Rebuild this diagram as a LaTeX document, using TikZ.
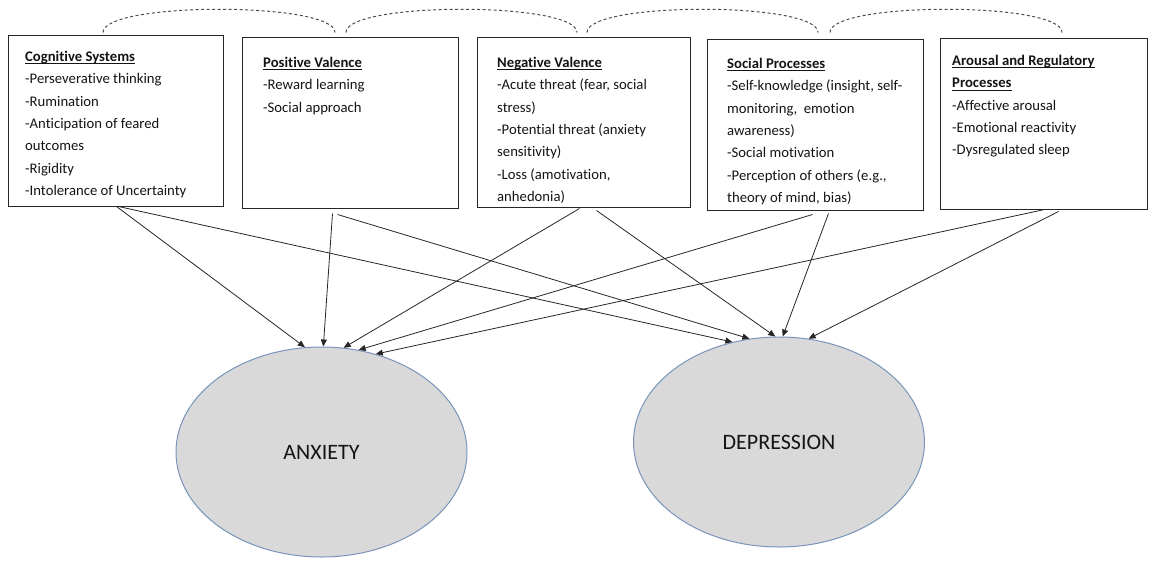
\documentclass[tikz,border=0pt]{standalone}
\usepackage{fontspec}
\setmainfont[Ligatures=NoCommon]{Carlito}
\usetikzlibrary{arrows.meta,shapes.geometric}
\definecolor{ellfill}{RGB}{217,217,217}
\definecolor{ellline}{RGB}{120,148,186}
\definecolor{ink}{RGB}{20,20,20}
\newsavebox\ulbox
\newcommand\myul[1]{\sbox\ulbox{#1}\rlap{\rule[-3pt]{\wd\ulbox}{0.9pt}}\usebox\ulbox}
\tikzset{
  box/.style={draw=black!85, line width=1pt, rectangle, inner sep=0pt},
  txt/.style={anchor=north west, inner sep=0pt, align=left, text=ink,
    font=\fontsize{14.7}{22.4}\selectfont},
  oval/.style={ellipse, draw=ellline, fill=ellfill, line width=1pt, inner sep=0pt,
    minimum width=291pt, minimum height=210pt, text=ink, font=\fontsize{22}{26}\selectfont},
  arr/.style={draw=black!85, line width=0.8pt, -{Triangle[length=7pt,width=6pt]}},
  link/.style={draw=black!70, line width=1pt, dash pattern=on 3pt off 2.5pt},
}
\newcommand\fs{\rule{0pt}{11pt}}
\begin{document}
\begin{tikzpicture}[x=1pt,y=-1pt]
\useasboundingbox (0,0) rectangle (1151,560);
% boxes
\node[box, minimum width=215pt, minimum height=171pt] (c1) at (115.5,120.5) {};
\node[box, minimum width=216pt, minimum height=171pt] (c2) at (350,122.5) {};
\node[box, minimum width=213pt, minimum height=170pt] (c3) at (583.5,122) {};
\node[box, minimum width=216pt, minimum height=171pt] (c4) at (815,124.5) {};
\node[box, minimum width=207pt, minimum height=171pt] (c5) at (1043.5,123.5) {};
% texts
\node[txt] (t1) at (25,50) {\fs\myul{\textbf{Cognitive Systems}}\\-Perseverative thinking\\-Rumination\\-Anticipation of feared\\outcomes\\-Rigidity\\-Intolerance of Uncertainty};
\node[txt] (t2) at (263,56) {\fs\myul{\textbf{Positive Valence}}\\-Reward learning\\-Social approach};
\node[txt] (t3) at (497,56) {\fs\myul{\textbf{Negative Valence}}\\-Acute threat (fear, social\\stress)\\-Potential threat (anxiety\\sensitivity)\\-Loss (amotivation,\\anhedonia)};
\node[txt] (t4) at (727,57) {\fs\myul{\textbf{Social Processes}}\\-Self-knowledge (insight, self-\\monitoring,\ \ emotion\\awareness)\\-Social motivation\\-Perception of others (e.g.,\\theory of mind, bias)};
\node[txt] (t5) at (952,54) {\fs\myul{\textbf{Arousal and Regulatory}}\\\myul{\textbf{Processes}}\\-Affective arousal\\-Emotional reactivity\\-Dysregulated sleep};
% ellipses
\node[oval] (anx) at (321.5,452) {ANXIETY};
\node[oval] (dep) at (779,442) {DEPRESSION};
% dashed links
\draw[link] ([xshift=-12.5pt,yshift=2pt]c1.north) .. controls +(0,-31) and +(0,-31) .. ([xshift=-15pt,yshift=4pt]c2.north);
\draw[link] ([xshift=-4pt,yshift=4pt]c2.north) .. controls +(0,-31) and +(0,-31) .. ([xshift=-6.5pt,yshift=4pt]c3.north);
\draw[link] ([xshift=3.5pt,yshift=4pt]c3.north) .. controls +(0,-31) and +(0,-31) .. ([xshift=3pt,yshift=6pt]c4.north);
\draw[link] ([xshift=15pt,yshift=6pt]c4.north) .. controls +(0,-31) and +(0,-31) .. ([xshift=18.5pt,yshift=5pt]c5.north);
% arrows to anxiety
\draw[arr] ([xshift=109pt]c1.south west) -- (anx.99);
\draw[arr] ([xshift=91pt,yshift=-5pt]c2.south west) -- (anx.89.7);
\draw[arr] ([xshift=103pt,yshift=-1pt]c3.south west) -- (anx.78.8);
\draw[arr] ([xshift=106pt,yshift=-4pt]c4.south west) -- (anx.70.8);
\draw[arr] ([xshift=105pt]c5.south west) -- (anx.61.3);
% arrows to depression
\draw[arr] ([xshift=111pt]c1.south west) -- (dep.115.3);
\draw[arr] ([xshift=96pt,yshift=-6pt]c2.south west) -- (dep.106.8);
\draw[arr] ([xshift=120pt,yshift=-3pt]c3.south west) -- (dep.92.8);
\draw[arr] ([xshift=122pt,yshift=-3pt]c4.south west) -- (dep.88.4);
\draw[arr] ([xshift=119pt,yshift=-2pt]c5.south west) -- (dep.74.3);
\end{tikzpicture}
\end{document}
